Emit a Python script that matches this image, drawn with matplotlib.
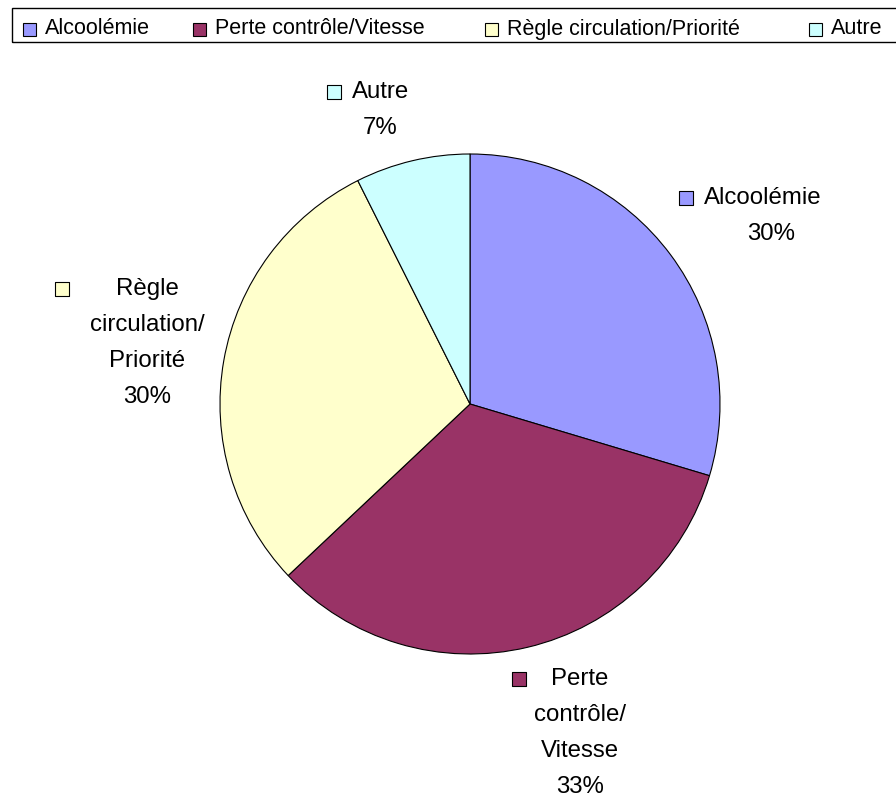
import matplotlib.pyplot as plt
from matplotlib.patches import Rectangle

plt.rcParams['font.family'] = ['Liberation Sans', 'DejaVu Sans']

# data
causes = ["Alcoolémie", "Perte contrôle/Vitesse", "Règle circulation/Priorité", "Autre"]
counts = [8, 9, 8, 2]
colors = ["#9999FF", "#993366", "#FFFFCC", "#CCFFFF"]
label_lines = [["Alcoolémie"], ["Perte", "contrôle/", "Vitesse"],
               ["Règle", "circulation/", "Priorité"], ["Autre"]]

W, H = 896, 799
fig = plt.figure(figsize=(W / 100, H / 100), dpi=100)
ax = fig.add_axes([0, 0, 1, 1])

total = sum(counts)
ax.pie(counts, colors=colors, startangle=90, counterclock=False,
       center=(470, H - 404), radius=250, frame=True,
       wedgeprops=dict(edgecolor="black", linewidth=0.8))
ax.set_xlim(0, W)
ax.set_ylim(0, H)
ax.axis("off")

# label anchors (pixels from top-left): square x, text x, first line y, pct x
anchors = [
    (686, 704, 198, 771),
    (519, 580, 679, 580),
    (62, 147, 289, 147),
    (334, 352, 92, 380),
]
fs = 17.3
step = 36
for lines, c, n, (sx, tx, ty, px) in zip(label_lines, colors, counts, anchors):
    ax.scatter([sx], [H - ty], marker="s", s=110, color=c, edgecolor="black",
               linewidth=0.8, zorder=5)
    for i, ln in enumerate(lines):
        ha = "left" if len(lines) == 1 else "center"
        ax.text(tx, H - ty - i * step, ln, fontsize=fs, ha=ha, va="center")
    pct = f"{round(100 * n / total)}%"
    ax.text(px, H - ty - len(lines) * step, pct, fontsize=fs, ha="center", va="center")

# legend strip across the top (runs off the right edge like the original)
ax.add_patch(Rectangle((12, H - 42), 920, 34, fill=False, edgecolor="black",
                       linewidth=1.0, clip_on=False))
leg_x = [23, 193, 485, 809]
for x, name, c in zip(leg_x, causes, colors):
    ax.add_patch(Rectangle((x, H - 36), 13, 13, facecolor=c, edgecolor="black",
                           linewidth=0.8, clip_on=False))
    ax.text(x + 22, H - 29, name, fontsize=15.5, ha="left", va="center")

fig.savefig("out.png", dpi=100)
